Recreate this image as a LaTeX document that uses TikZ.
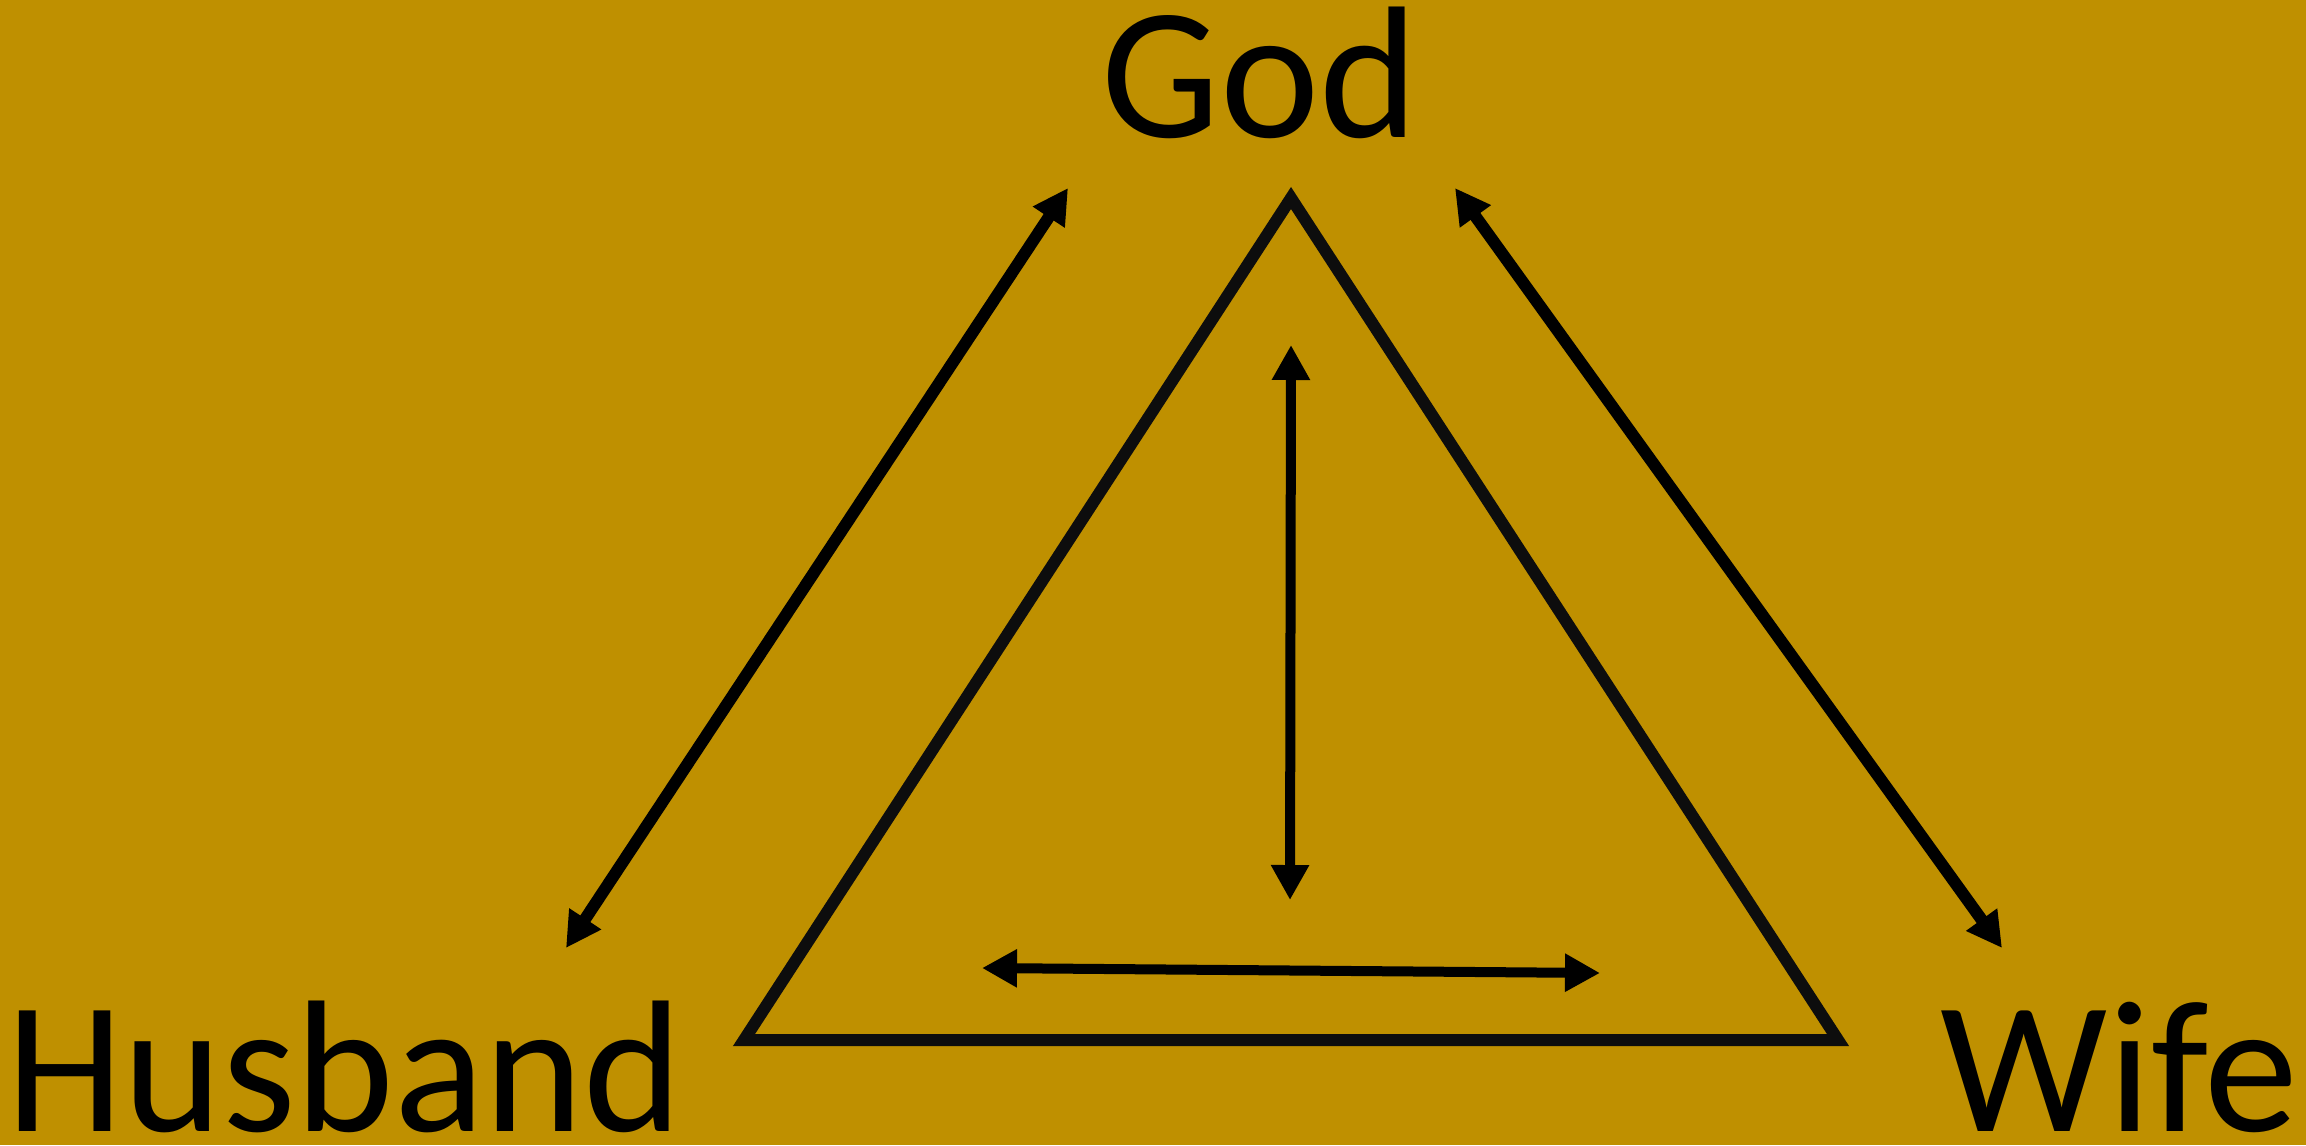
\documentclass[tikz,border=0pt]{standalone}
\usepackage{fontspec}
\setmainfont{Carlito}
\usetikzlibrary{arrows.meta}
\definecolor{bg}{HTML}{BF9000}
\definecolor{tri}{HTML}{0D0D0D}
\begin{document}
\begin{tikzpicture}[x=0.5pt,y=-0.5pt,
  dbl/.style={line width=#1, {Triangle[length=17.5pt,width=18pt]}-{Triangle[length=17.5pt,width=18pt]}},
  lbl/.style={font=\fontsize{94}{100}\selectfont, inner sep=0pt}]
\fill[bg] (0,0) rectangle (2306,1145);
\useasboundingbox (0,0) rectangle (2306,1145);
\node[lbl, anchor=base] (god) at (1260,137) {God};
\node[lbl, anchor=base west] (husband) at (6,1131) {Husband};
\node[lbl, anchor=base east] (wife) at (2298,1131) {Wife};
\coordinate (apex) at (1291,198);
\coordinate (bl) at (744,1040);
\coordinate (br) at (1838,1040);
\draw[tri, line width=6pt, line join=miter] (apex) -- (bl) -- (br) -- cycle;
\coordinate (la1) at (566,948);
\coordinate (la2) at (1068,188);
\coordinate (ra1) at (1455,188);
\coordinate (ra2) at (2002,948);
\coordinate (va1) at (1291,345);
\coordinate (va2) at (1290,900);
\coordinate (ha1) at (982,968);
\coordinate (ha2) at (1600,973);
\draw[dbl=6pt] (la1) -- (la2);
\draw[dbl=6pt] (ra1) -- (ra2);
\draw[dbl=5pt] (va1) -- (va2);
\draw[dbl=5pt] (ha1) -- (ha2);
\end{tikzpicture}
\end{document}
